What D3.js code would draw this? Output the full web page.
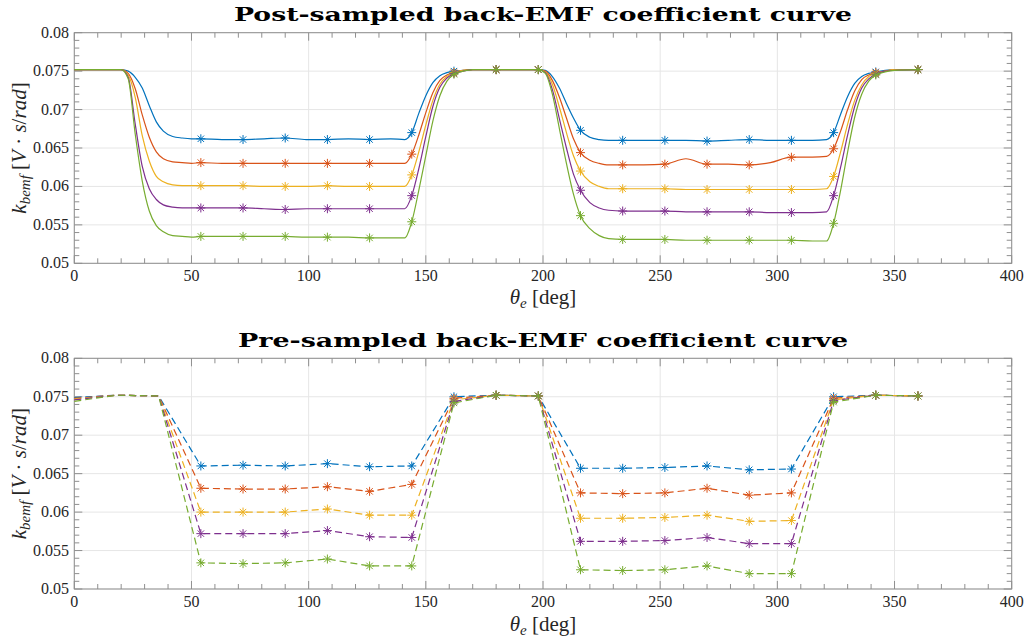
<!DOCTYPE html>
<html><head><meta charset="utf-8">
<script src="https://cdn.jsdelivr.net/npm/d3@7"></script>
<style>body{margin:0;background:#fff}</style>
</head><body>
<svg id="chart" width="1025" height="639" xmlns="http://www.w3.org/2000/svg"></svg>
<script>
// ---------- data ----------
const seriesColors = ["#0072BD", "#D95319", "#EDB120", "#7E2F8E", "#77AC30"];

const postX = [0, 20, 23, 26, 29, 32, 35, 38, 42, 46, 50,
  54, 63, 72, 81, 90, 99, 108, 117, 126, 135, 141,
  144, 147, 150, 153, 156, 159, 162, 166, 170,
  180, 198,
  201, 204, 207, 210, 213, 216, 220, 224, 228,
  234, 243, 252, 261, 270, 279, 288, 297, 306, 315, 321,
  324, 327, 330, 333, 336, 339, 342, 346, 350,
  360];

const postBlue = [.0752, .0752, .0750, .0742, .0728, .0705, .0684, .0672, .0665, .0663, .0662,
  .0662, .0661, .0661, .0662, .0663, .0661, .0661, .0662, .0661, .0662, .0661,
  .0670, .0695, .0718, .0735, .0744, .0748, .0750, .0751, .0752,
  .0752, .0752,
  .0751, .0743, .0728, .0708, .0689, .0673, .0664, .0661, .0660,
  .0660, .0660, .0660, .0660, .0659, .0660, .0661, .0660, .0660, .0660, .0661,
  .0670, .0694, .0717, .0734, .0743, .0747, .0749, .0751, .0752,
  .0752];
const postOrange = [.0752, .0752, .0747, .0727, .0693, .0664, .0645, .0636, .0632, .0631, .0630,
  .0631, .0630, .0630, .0630, .0630, .0630, .0630, .0630, .0630, .0630, .0630,
  .0642, .0667, .0696, .0722, .0738, .0745, .0748, .0751, .0752,
  .0752, .0752,
  .0750, .0738, .0716, .0689, .0662, .0644, .0634, .0630, .0628,
  .0628, .0628, .0629, .0636, .0629, .0629, .0628, .0631, .0638, .0638, .0639,
  .0649, .0672, .0700, .0724, .0739, .0745, .0748, .0750, .0752,
  .0752];
const postYellow = [.0752, .0752, .0745, .0716, .0666, .0633, .0613, .0606, .0602, .0601, .0601,
  .0601, .0601, .0601, .0600, .0600, .0600, .0601, .0600, .0600, .0600, .0600,
  .0615, .0645, .0680, .0712, .0733, .0743, .0748, .0751, .0752,
  .0752, .0752,
  .0749, .0733, .0703, .0670, .0640, .0620, .0606, .0600, .0597,
  .0597, .0597, .0597, .0596, .0596, .0596, .0596, .0596, .0596, .0596, .0597,
  .0613, .0645, .0681, .0712, .0732, .0743, .0747, .0750, .0752,
  .0752];
const postPurple = [.0752, .0752, .0742, .0681, .0626, .0597, .0583, .0576, .0573, .0572, .0572,
  .0572, .0572, .0572, .0571, .0570, .0571, .0571, .0571, .0571, .0571, .0571,
  .0588, .0623, .0665, .0704, .0729, .0741, .0747, .0750, .0752,
  .0752, .0752,
  .0748, .0726, .0688, .0650, .0616, .0595, .0579, .0572, .0569,
  .0568, .0568, .0568, .0567, .0567, .0567, .0567, .0566, .0566, .0566, .0567,
  .0588, .0625, .0667, .0704, .0728, .0740, .0746, .0750, .0751,
  .0752];
const postGreen = [.0752, .0752, .0740, .0668, .0607, .0568, .0549, .0541, .0536, .0535, .0534,
  .0535, .0535, .0535, .0535, .0535, .0534, .0534, .0534, .0533, .0533, .0533,
  .0554, .0595, .0640, .0685, .0718, .0737, .0746, .0750, .0752,
  .0752, .0752,
  .0747, .0720, .0675, .0630, .0590, .0562, .0545, .0536, .0532,
  .0531, .0531, .0531, .0530, .0530, .0530, .0530, .0530, .0530, .0529, .0529,
  .0552, .0595, .0645, .0690, .0720, .0737, .0745, .0749, .0751,
  .0752];

const preX = [0, 18, 36, 54, 72, 90, 108, 126, 144, 162, 180, 198, 216, 234, 252, 270, 288, 306, 324, 342, 360];
const preBlue   = [.0749, .0752, .0751, .0660, .0661, .0660, .0663, .0659, .0660, .0750, .0752, .0751, .0657, .0657, .0658, .0660, .0655, .0656, .0750, .0752, .0751];
const preOrange = [.0748, .0752, .0751, .0631, .0630, .0630, .0633, .0627, .0636, .0748, .0752, .0751, .0625, .0624, .0625, .0631, .0622, .0625, .0748, .0752, .0751];
const preYellow = [.0747, .0752, .0751, .0600, .0600, .0600, .0604, .0596, .0596, .0746, .0752, .0751, .0592, .0592, .0593, .0596, .0588, .0589, .0746, .0752, .0751];
const prePurple = [.0746, .0752, .0751, .0572, .0572, .0572, .0576, .0568, .0567, .0744, .0752, .0751, .0562, .0562, .0563, .0567, .0559, .0559, .0745, .0752, .0751];
const preGreen  = [.0744, .0752, .0751, .0534, .0533, .0534, .0539, .0530, .0530, .0742, .0752, .0751, .0525, .0524, .0525, .0530, .0520, .0520, .0743, .0752, .0751];

const markerX = [54, 72, 90, 108, 126, 144, 162, 180, 198, 216, 234, 252, 270, 288, 306, 324, 342, 360];

const xTicks = [0, 50, 100, 150, 200, 250, 300, 350, 400];
const xTickLabels = ["0", "50", "100", "150", "200", "250", "300", "350", "400"];
const yTicks = [0.05, 0.055, 0.06, 0.065, 0.07, 0.075, 0.08];
const yTickLabels = ["0.05", "0.055", "0.06", "0.065", "0.07", "0.075", "0.08"];
const xDomain = [0, 400];
const yDomain = [0.05, 0.08];
const titles = ["Post-sampled back-EMF coefficient curve", "Pre-sampled back-EMF coefficient curve"];

// ---------- drawing ----------
const svg = d3.select("#chart");
const serif = "'Liberation Serif', 'DejaVu Serif', serif";
const L = 74.3, R = 1011.7;

const panels = [
  {top: 32.7, bottom: 263.3, xs: postX, ys: [postBlue, postOrange, postYellow, postPurple, postGreen], dashed: false, title: titles[0], titleY: 21, tickY: 281, labelY: 304, titleLen: 618},
  {top: 358.3, bottom: 589, xs: preX, ys: [preBlue, preOrange, preYellow, prePurple, preGreen], dashed: true, title: titles[1], titleY: 347, tickY: 607, labelY: 631, titleLen: 610}
];

const axisCol = "#8f8f8f", gridCol = "#e6e6e6", textCol = "#262626";

panels.forEach(p => {
  const x = d3.scaleLinear().domain(xDomain).range([L, R]);
  const y = d3.scaleLinear().domain(yDomain).range([p.bottom, p.top]);
  const g = svg.append("g");

  // grid
  g.selectAll(".gx").data(xTicks).enter().append("line")
    .attr("x1", d => x(d)).attr("x2", d => x(d)).attr("y1", p.top).attr("y2", p.bottom)
    .attr("stroke", gridCol).attr("stroke-width", 1);
  g.selectAll(".gy").data(yTicks).enter().append("line")
    .attr("y1", d => y(d)).attr("y2", d => y(d)).attr("x1", L).attr("x2", R)
    .attr("stroke", gridCol).attr("stroke-width", 1);

  // ticks (minor + major) on all four sides, inward
  const xMinor = d3.range(0, 401, 10);
  const yMinor = d3.range(0, 31).map(i => 0.05 + i * 0.001);
  const isMajX = v => Math.abs(v % 50) < 1e-9;
  const isMajY = v => Math.abs(Math.round(v * 1000) % 5) === 0;
  xMinor.forEach(v => {
    const len = isMajX(v) ? 8 : 5;
    g.append("line").attr("x1", x(v)).attr("x2", x(v)).attr("y1", p.bottom).attr("y2", p.bottom - len).attr("stroke", axisCol);
    g.append("line").attr("x1", x(v)).attr("x2", x(v)).attr("y1", p.top).attr("y2", p.top + len).attr("stroke", axisCol);
  });
  yMinor.forEach(v => {
    const len = isMajY(v) ? 8 : 5;
    g.append("line").attr("y1", y(v)).attr("y2", y(v)).attr("x1", L).attr("x2", L + len).attr("stroke", axisCol);
    g.append("line").attr("y1", y(v)).attr("y2", y(v)).attr("x1", R).attr("x2", R - len).attr("stroke", axisCol);
  });

  // box
  g.append("rect").attr("x", L).attr("y", p.top).attr("width", R - L).attr("height", p.bottom - p.top)
    .attr("fill", "none").attr("stroke", axisCol).attr("stroke-width", 1);

  // tick labels
  g.selectAll(".xl").data(xTicks).enter().append("text")
    .attr("x", d => x(d)).attr("y", p.tickY).attr("text-anchor", "middle")
    .attr("font-family", serif).attr("font-size", 16).attr("fill", textCol)
    .text((d, i) => xTickLabels[i]);
  g.selectAll(".yl").data(yTicks).enter().append("text")
    .attr("x", 69).attr("y", d => y(d) + 5).attr("text-anchor", "end")
    .attr("font-family", serif).attr("font-size", 16).attr("fill", textCol)
    .text((d, i) => yTickLabels[i]);

  // series
  const line = d3.line().x(d => x(d[0])).y(d => y(d[1]))
    .curve(p.dashed ? d3.curveLinear : d3.curveMonotoneX);
  const star = "M-4.5,0H4.5M0,-4.5V4.5M-3.2,-3.2L3.2,3.2M-3.2,3.2L3.2,-3.2";
  p.ys.forEach((vals, si) => {
    const pts = p.xs.map((xv, i) => [xv, vals[i]]);
    g.append("path").attr("d", line(pts)).attr("fill", "none")
      .attr("stroke", seriesColors[si]).attr("stroke-width", 1.2)
      .attr("stroke-dasharray", p.dashed ? "7,4" : null);
    const mk = pts.filter(d => markerX.includes(d[0]));
    g.selectAll(null).data(mk).enter().append("path")
      .attr("d", star).attr("transform", d => `translate(${x(d[0])},${y(d[1])})`)
      .attr("fill", "none").attr("stroke", seriesColors[si]).attr("stroke-width", 1);
  });

  // title
  g.append("text").attr("x", (L + R) / 2).attr("y", p.titleY).attr("text-anchor", "middle")
    .attr("font-family", "'DejaVu Serif', serif").attr("font-weight", "bold").attr("font-size", 18)
    .attr("fill", "#000").attr("textLength", p.titleLen).attr("lengthAdjust", "spacingAndGlyphs")
    .text(p.title);

  // x label
  const xl = g.append("text").attr("x", (L + R) / 2).attr("y", p.labelY).attr("text-anchor", "middle")
    .attr("font-family", serif).attr("font-size", 21).attr("fill", textCol);
  xl.append("tspan").attr("font-style", "italic").text("θ");
  xl.append("tspan").attr("font-style", "italic").attr("font-size", 15).attr("dy", 4).text("e");
  xl.append("tspan").attr("dy", -4).text(" [deg]");

  // y label
  const yl = g.append("text").attr("transform", `translate(26,${(p.top + p.bottom) / 2}) rotate(-90)`)
    .attr("text-anchor", "middle").attr("font-family", serif).attr("font-size", 21).attr("fill", textCol);
  yl.append("tspan").attr("font-style", "italic").text("k");
  yl.append("tspan").attr("font-style", "italic").attr("font-size", 15).attr("dy", 4).text("bemf");
  yl.append("tspan").attr("dy", -4).text(" [");
  yl.append("tspan").attr("font-style", "italic").text("V");
  yl.append("tspan").text(" · ");
  yl.append("tspan").attr("font-style", "italic").text("s");
  yl.append("tspan").text("/");
  yl.append("tspan").attr("font-style", "italic").text("rad");
  yl.append("tspan").text("]");
});
</script>
</body></html>
